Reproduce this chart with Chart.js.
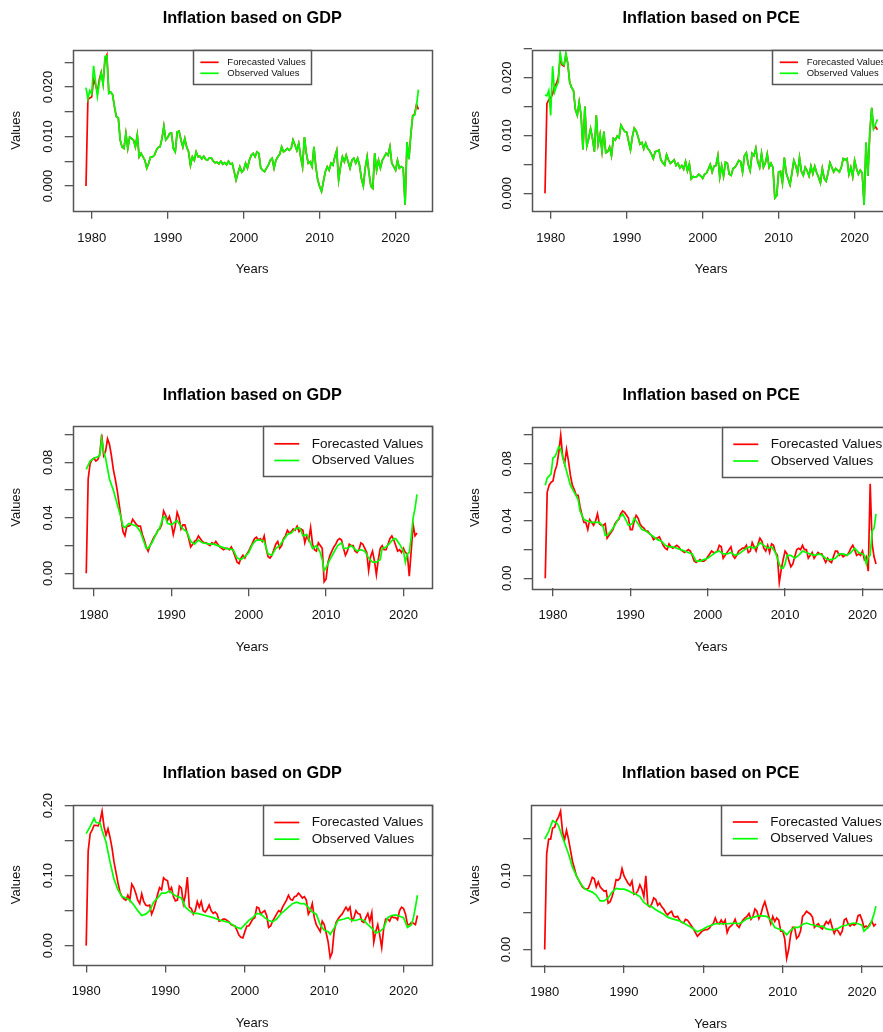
<!DOCTYPE html>
<html>
<head>
<meta charset="utf-8">
<script src="https://cdn.jsdelivr.net/npm/chart.js@4.4.0/dist/chart.umd.min.js"></script>
<style>
  html, body { margin: 0; padding: 0; background: #fff; }
  body { position: relative; width: 883px; height: 1032px; overflow: hidden; }
  canvas { position: absolute; }
</style>
</head>
<body>
<canvas id="gdp1" width="440" height="290" style="left:0;top:0"></canvas>
<canvas id="pce1" width="460" height="290" style="left:440px;top:0"></canvas>
<canvas id="gdp2" width="440" height="290" style="left:0;top:380px"></canvas>
<canvas id="pce2" width="460" height="290" style="left:440px;top:380px"></canvas>
<canvas id="gdp3" width="440" height="272" style="left:0;top:760px"></canvas>
<canvas id="pce3" width="460" height="272" style="left:440px;top:760px"></canvas>
<script>
// ---- labels / ticks ----
const titles = ["Inflation based on GDP", "Inflation based on PCE"];
const legendLabels = ["Forecasted Values", "Observed Values"];
const xTicks = [1980, 1990, 2000, 2010, 2020];

const ticksTop = [0, 0.005, 0.010, 0.015, 0.020, 0.025];
const labelsTop = [0, 0.010, 0.020];
const ticksMid = [0, 0.02, 0.04, 0.06, 0.08, 0.10];
const labelsMid = [0, 0.04, 0.08];
const ticksLowGdp = [0, 0.05, 0.10, 0.15, 0.20];
const labelsLowGdp = [0, 0.10, 0.20];
const ticksLowPce = [0, 0.05, 0.10, 0.15];
const labelsLowPce = [0, 0.10];

// ---- top row: quarterly, first value is 1979 Q2 ----
const topStart = 1979.25;

const gdp1Observed = [
  /* 1979 */ .0199, .0176, .0193,
  /* 1980 */ .0186, .0243, .0211, .0181,
  /* 1981 */ .0209, .0228, .0205, .0262,
  /* 1982 */ .0263, .0187, .0190, .0185,
  /* 1983 */ .0160, .0140, .0138, .0093,
  /* 1984 */ .0079, .0076, .0106, .0076,
  /* 1985 */ .0099, .0096, .0093, .0079,
  /* 1986 */ .0103, .0059, .0066, .0059,
  /* 1987 */ .0052, .0036, .0046, .0059,
  /* 1988 */ .0059, .0062, .0072, .0078,
  /* 1989 */ .0079, .0096, .0121, .0093,
  /* 1990 */ .0098, .0106, .0107, .0076,
  /* 1991 */ .0069, .0109, .0111, .0093,
  /* 1992 */ .0079, .0096, .0079, .0069,
  /* 1993 */ .0042, .0059, .0052, .0069,
  /* 1994 */ .0059, .0060, .0055, .0060,
  /* 1995 */ .0054, .0052, .0057, .0057,
  /* 1996 */ .0050, .0047, .0048, .0045,
  /* 1997 */ .0050, .0044, .0047, .0043,
  /* 1998 */ .0050, .0044, .0046, .0029,
  /* 1999 */ .0012, .0026, .0039, .0028,
  /* 2000 */ .0032, .0046, .0036, .0052,
  /* 2001 */ .0062, .0066, .0059, .0069,
  /* 2002 */ .0066, .0036, .0032, .0029,
  /* 2003 */ .0036, .0042, .0052, .0056,
  /* 2004 */ .0036, .0052, .0059, .0064,
  /* 2005 */ .0079, .0069, .0072, .0076,
  /* 2006 */ .0072, .0076, .0093, .0083,
  /* 2007 */ .0072, .0086, .0059, .0039,
  /* 2008 */ .0099, .0066, .0046, .0049,
  /* 2009 */ .0039, .0079, .0039, .0012,
  /* 2010 */ -.0001, -.0011, .0009, .0029,
  /* 2011 */ .0039, .0032, .0046, .0042,
  /* 2012 */ .0059, .0072, .0012, .0039,
  /* 2013 */ .0059, .0049, .0062, .0049,
  /* 2014 */ .0036, .0052, .0056, .0046,
  /* 2015 */ .0056, .0042, .0015, .0000,
  /* 2016 */ .0036, .0059, .0026, -.0001,
  /* 2017 */ -.0005, .0066, .0032, .0052,
  /* 2018 */ .0036, .0052, .0059, .0066,
  /* 2019 */ .0062, .0079, .0046, .0039,
  /* 2020 */ .0032, .0052, .0036, .0039,
  /* 2021 */ .0036, -.0038, .0089, .0054,
  /* 2022 */ .0103, .0142, .0143, .0162,
  /* 2023 */ .0195
];

const gdp1Forecast = [
  /* 1979 */ 0, .0175, .0178,
  /* 1980 */ .0180, .0215, .0205, .0190,
  /* 1981 */ .0215, .0230, .0207, .0255,
  /* 1982 */ .0265, .0190, .0190, .0185,
  /* 1983 */ .0160, .0140, .0138, .0093,
  /* 1984 */ .0079, .0076, .0106, .0076,
  /* 1985 */ .0099, .0096, .0093, .0079,
  /* 1986 */ .0103, .0059, .0066, .0059,
  /* 1987 */ .0052, .0036, .0046, .0059,
  /* 1988 */ .0059, .0062, .0072, .0078,
  /* 1989 */ .0079, .0096, .0121, .0093,
  /* 1990 */ .0098, .0106, .0107, .0076,
  /* 1991 */ .0069, .0109, .0111, .0093,
  /* 1992 */ .0079, .0096, .0079, .0069,
  /* 1993 */ .0042, .0059, .0052, .0069,
  /* 1994 */ .0059, .0060, .0055, .0060,
  /* 1995 */ .0054, .0052, .0057, .0057,
  /* 1996 */ .0050, .0047, .0048, .0045,
  /* 1997 */ .0050, .0044, .0047, .0043,
  /* 1998 */ .0050, .0044, .0046, .0029,
  /* 1999 */ .0012, .0026, .0039, .0028,
  /* 2000 */ .0032, .0046, .0036, .0052,
  /* 2001 */ .0062, .0066, .0059, .0069,
  /* 2002 */ .0066, .0036, .0032, .0029,
  /* 2003 */ .0036, .0042, .0052, .0056,
  /* 2004 */ .0036, .0052, .0059, .0064,
  /* 2005 */ .0079, .0069, .0072, .0076,
  /* 2006 */ .0072, .0076, .0093, .0083,
  /* 2007 */ .0072, .0086, .0059, .0039,
  /* 2008 */ .0099, .0066, .0046, .0049,
  /* 2009 */ .0039, .0079, .0039, .0012,
  /* 2010 */ -.0001, -.0011, .0009, .0029,
  /* 2011 */ .0039, .0032, .0046, .0042,
  /* 2012 */ .0059, .0072, .0012, .0039,
  /* 2013 */ .0059, .0049, .0062, .0049,
  /* 2014 */ .0036, .0052, .0056, .0046,
  /* 2015 */ .0056, .0042, .0015, .0000,
  /* 2016 */ .0036, .0059, .0026, -.0001,
  /* 2017 */ -.0005, .0066, .0032, .0052,
  /* 2018 */ .0036, .0052, .0059, .0066,
  /* 2019 */ .0062, .0079, .0046, .0039,
  /* 2020 */ .0032, .0052, .0036, .0039,
  /* 2021 */ .0036, -.0038, .0089, .0054,
  /* 2022 */ .0103, .0142, .0145, .0165,
  /* 2023 */ .0155
];

const pce1Observed = [
  /* 1979 */ .0170, .0169, .0178,
  /* 1980 */ .0135, .0220, .0175, .0185,
  /* 1981 */ .0192, .0243, .0225, .0222,
  /* 1982 */ .0242, .0225, .0192, .0183,
  /* 1983 */ .0178, .0145, .0135, .0158,
  /* 1984 */ .0135, .0076, .0150, .0082,
  /* 1985 */ .0095, .0112, .0095, .0072,
  /* 1986 */ .0135, .0085, .0102, .0073,
  /* 1987 */ .0107, .0070, .0072, .0080,
  /* 1988 */ .0065, .0095, .0092, .0099,
  /* 1989 */ .0096, .0118, .0112, .0107,
  /* 1990 */ .0106, .0090, .0075, .0098,
  /* 1991 */ .0113, .0108, .0098, .0085,
  /* 1992 */ .0088, .0077, .0087, .0078,
  /* 1993 */ .0074, .0068, .0060, .0072,
  /* 1994 */ .0073, .0075, .0058, .0053,
  /* 1995 */ .0049, .0067, .0058, .0052,
  /* 1996 */ .0055, .0058, .0048, .0052,
  /* 1997 */ .0044, .0048, .0042, .0055,
  /* 1998 */ .0039, .0051, .0025, .0029,
  /* 1999 */ .0028, .0029, .0033, .0030,
  /* 2000 */ .0026, .0033, .0035, .0042,
  /* 2001 */ .0050, .0037, .0047, .0048,
  /* 2002 */ .0065, .0028, .0048, .0030,
  /* 2003 */ .0054, .0052, .0033, .0031,
  /* 2004 */ .0043, .0045, .0050, .0057,
  /* 2005 */ .0055, .0037, .0065, .0070,
  /* 2006 */ .0050, .0039, .0069, .0065,
  /* 2007 */ .0078, .0055, .0045, .0069,
  /* 2008 */ .0045, .0052, .0068, .0045,
  /* 2009 */ .0052, .0045, -.0008, -.0004,
  /* 2010 */ .0037, .0038, .0018, .0062,
  /* 2011 */ .0035, .0025, .0015, .0035,
  /* 2012 */ .0057, .0048, .0035, .0062,
  /* 2013 */ .0038, .0031, .0045, .0039,
  /* 2014 */ .0030, .0047, .0034, .0047,
  /* 2015 */ .0036, .0028, .0018, .0043,
  /* 2016 */ .0026, .0021, .0035, .0053,
  /* 2017 */ .0045, .0037, .0043, .0040,
  /* 2018 */ .0037, .0045, .0060, .0058,
  /* 2019 */ .0060, .0033, .0045, .0029,
  /* 2020 */ .0057, .0043, .0033, .0040,
  /* 2021 */ .0035, -.0020, .0088, .0030,
  /* 2022 */ .0105, .0148, .0112, .0120,
  /* 2023 */ .0128
];

const pce1Forecast = [
  /* 1979 */ 0, .0155, .0162,
  /* 1980 */ .0165, .0172, .0185, .0190,
  /* 1981 */ .0200, .0235, .0222, .0220,
  /* 1982 */ .0240, .0225, .0192, .0183,
  /* 1983 */ .0178, .0145, .0135, .0158,
  /* 1984 */ .0135, .0076, .0150, .0082,
  /* 1985 */ .0095, .0112, .0095, .0072,
  /* 1986 */ .0135, .0085, .0102, .0073,
  /* 1987 */ .0107, .0070, .0072, .0080,
  /* 1988 */ .0065, .0095, .0092, .0099,
  /* 1989 */ .0096, .0118, .0112, .0107,
  /* 1990 */ .0106, .0090, .0075, .0098,
  /* 1991 */ .0113, .0108, .0098, .0085,
  /* 1992 */ .0088, .0077, .0087, .0078,
  /* 1993 */ .0074, .0068, .0060, .0072,
  /* 1994 */ .0073, .0075, .0058, .0053,
  /* 1995 */ .0049, .0067, .0058, .0052,
  /* 1996 */ .0055, .0058, .0048, .0052,
  /* 1997 */ .0044, .0048, .0042, .0055,
  /* 1998 */ .0039, .0051, .0025, .0029,
  /* 1999 */ .0028, .0029, .0033, .0030,
  /* 2000 */ .0026, .0033, .0035, .0042,
  /* 2001 */ .0050, .0037, .0047, .0048,
  /* 2002 */ .0065, .0028, .0048, .0030,
  /* 2003 */ .0054, .0052, .0033, .0031,
  /* 2004 */ .0043, .0045, .0050, .0057,
  /* 2005 */ .0055, .0037, .0065, .0070,
  /* 2006 */ .0050, .0039, .0069, .0065,
  /* 2007 */ .0078, .0055, .0045, .0069,
  /* 2008 */ .0045, .0052, .0068, .0045,
  /* 2009 */ .0052, .0045, -.0008, -.0004,
  /* 2010 */ .0037, .0038, .0018, .0062,
  /* 2011 */ .0035, .0025, .0015, .0035,
  /* 2012 */ .0057, .0048, .0035, .0062,
  /* 2013 */ .0038, .0031, .0045, .0039,
  /* 2014 */ .0030, .0047, .0034, .0047,
  /* 2015 */ .0036, .0028, .0018, .0043,
  /* 2016 */ .0026, .0021, .0035, .0053,
  /* 2017 */ .0045, .0037, .0043, .0040,
  /* 2018 */ .0037, .0045, .0060, .0058,
  /* 2019 */ .0060, .0033, .0045, .0029,
  /* 2020 */ .0057, .0043, .0033, .0040,
  /* 2021 */ .0035, -.0020, .0088, .0030,
  /* 2022 */ .0105, .0148, .0112, .0115,
  /* 2023 */ .0110
];

// ---- middle row: forecasts quarterly from 1979 Q1 ----
const midStart = 1979.0;

const gdp2Forecast = [
  /* 1979 */ 0, .068, .079, .082,
  /* 1980 */ .083, .081, .082, .086,
  /* 1981 */ .100, .085, .088, .097,
  /* 1982 */ .093, .085, .075, .068,
  /* 1983 */ .060, .050, .040, .030,
  /* 1984 */ .027, .034, .034, .035,
  /* 1985 */ .039, .037, .035, .034,
  /* 1986 */ .034, .028, .024, .019,
  /* 1987 */ .016, .020, .023, .026,
  /* 1988 */ .028, .031, .032, .035,
  /* 1989 */ .045, .042, .038, .041,
  /* 1990 */ .036, .028, .034, .044,
  /* 1991 */ .040, .032, .035, .035,
  /* 1992 */ .030, .025, .019, .021,
  /* 1993 */ .023, .024, .027, .025,
  /* 1994 */ .023, .022, .022, .021,
  /* 1995 */ .020, .022, .021, .023,
  /* 1996 */ .021, .019, .018, .017,
  /* 1997 */ .018, .018, .017, .019,
  /* 1998 */ .016, .012, .008, .007,
  /* 1999 */ .011, .013, .011, .014,
  /* 2000 */ .016, .019, .022, .025,
  /* 2001 */ .026, .024, .025, .023,
  /* 2002 */ .027, .018, .012, .011,
  /* 2003 */ .013, .017, .021, .023,
  /* 2004 */ .018, .020, .025, .027,
  /* 2005 */ .031, .029, .030, .032,
  /* 2006 */ .031, .034, .030, .032,
  /* 2007 */ .031, .022, .027, .024,
  /* 2008 */ .033, .021, .017, .016,
  /* 2009 */ .022, .020, .018, -.006,
  /* 2010 */ -.004, .008, .013, .016,
  /* 2011 */ .019, .021, .024, .025,
  /* 2012 */ .024, .018, .013, .016,
  /* 2013 */ .021, .020, .020, .016,
  /* 2014 */ .015, .017, .022, .021,
  /* 2015 */ .018, .015, .002, .012,
  /* 2016 */ .016, .009, -.001, .010,
  /* 2017 */ .018, .020, .017, .017,
  /* 2018 */ .021, .025, .027, .024,
  /* 2019 */ .020, .016, .017, .015,
  /* 2020 */ .018, .015, .014, -.002,
  /* 2021 */ .016, .035, .027, .029
];

const gdp2ObsYears = [
  1979, 1979.5, 1980, 1980.5, 1980.75, 1981, 1981.25, 1981.5, 1982, 1982.5,
  1983, 1983.5, 1983.75, 1984, 1984.5, 1985, 1985.5, 1986, 1986.5, 1986.75,
  1987, 1987.5, 1988, 1988.5, 1989, 1989.25, 1989.5, 1990, 1990.5, 1990.75,
  1991, 1991.5, 1992, 1992.5, 1993, 1993.5, 1994, 1995, 1995.5, 1996,
  1997, 1998, 1998.5, 1999, 1999.5, 2000, 2000.5, 2001, 2001.5, 2002,
  2002.5, 2003, 2003.5, 2004, 2004.5, 2005, 2005.5, 2006, 2006.5, 2006.75,
  2007, 2007.5, 2007.75, 2008.25, 2008.75, 2009.25, 2009.5, 2009.75, 2010, 2010.5,
  2011, 2011.5, 2012, 2012.25, 2012.75, 2013.25, 2014, 2014.5, 2015, 2015.5,
  2016, 2016.5, 2017, 2017.25, 2017.75, 2018.25, 2018.75, 2019, 2019.5, 2020,
  2020.25, 2020.5, 2020.75, 2021, 2021.25, 2021.5, 2021.75
];
const gdp2Observed = [
  .075, .081, .083, .084, .085, .097, .088, .083, .068, .060,
  .050, .040, .034, .033, .036, .035, .034, .030, .022, .018,
  .018, .022, .028, .033, .041, .040, .036, .035, .037, .038,
  .036, .032, .030, .023, .021, .024, .022, .021, .021, .020,
  .018, .017, .011, .010, .012, .015, .021, .024, .024, .023,
  .014, .013, .018, .020, .024, .028, .029, .032, .033, .031,
  .027, .028, .025, .018, .020, .015, .010, .002, .004, .010,
  .015, .020, .022, .018, .018, .020, .016, .017, .016, .011,
  .008, .008, .010, .018, .019, .022, .025, .025, .021, .016,
  .008, .014, .015, .026, .040, .047, .057
];

const pce2Forecast = [
  /* 1979 */ 0, .060, .065, .067,
  /* 1980 */ .068, .075, .079, .088,
  /* 1981 */ .100, .085, .080, .090,
  /* 1982 */ .082, .072, .065, .062,
  /* 1983 */ .058, .058, .050, .044,
  /* 1984 */ .039, .039, .034, .041,
  /* 1985 */ .039, .037, .040, .045,
  /* 1986 */ .038, .037, .037, .038,
  /* 1987 */ .028, .030, .032, .034,
  /* 1988 */ .038, .040, .041, .045,
  /* 1989 */ .047, .046, .044, .042,
  /* 1990 */ .034, .034, .040, .044,
  /* 1991 */ .042, .038, .036, .035,
  /* 1992 */ .033, .033, .031, .030,
  /* 1993 */ .027, .028, .028, .029,
  /* 1994 */ .026, .023, .021, .020,
  /* 1995 */ .024, .022, .021, .022,
  /* 1996 */ .023, .022, .020, .019,
  /* 1997 */ .018, .019, .020, .019,
  /* 1998 */ .016, .012, .011, .012,
  /* 1999 */ .013, .012, .012, .013,
  /* 2000 */ .015, .017, .019, .018,
  /* 2001 */ .018, .019, .023, .022,
  /* 2002 */ .014, .016, .018, .020,
  /* 2003 */ .022, .016, .014, .016,
  /* 2004 */ .019, .020, .021, .021,
  /* 2005 */ .023, .018, .019, .025,
  /* 2006 */ .022, .019, .024, .028,
  /* 2007 */ .026, .021, .019, .023,
  /* 2008 */ .018, .024, .023, .018,
  /* 2009 */ .016, -.003, .006, .013,
  /* 2010 */ .019, .017, .012, .008,
  /* 2011 */ .010, .015, .020, .021,
  /* 2012 */ .020, .023, .020, .020,
  /* 2013 */ .014, .016, .018, .014,
  /* 2014 */ .016, .018, .017, .017,
  /* 2015 */ .014, .011, .014, .012,
  /* 2016 */ .011, .015, .019, .019,
  /* 2017 */ .016, .017, .015, .016,
  /* 2018 */ .016, .018, .021, .023,
  /* 2019 */ .020, .016, .017, .016,
  /* 2020 */ .019, .013, .015, .005,
  /* 2021 */ .066, .024, .015, .010
];

const pce2ObsYears = [
  1979, 1979.25, 1979.75, 1980, 1980.25, 1980.5, 1980.75, 1981, 1981.5, 1982,
  1982.25, 1982.75, 1983.25, 1983.5, 1984, 1984.5, 1985, 1985.5, 1986, 1986.5,
  1986.75, 1987, 1987.5, 1988, 1988.5, 1989, 1989.5, 1989.75, 1990.25, 1990.5,
  1991, 1991.5, 1992, 1992.5, 1993, 1993.5, 1994, 1994.5, 1995, 1995.5,
  1996, 1996.5, 1997, 1997.5, 1998, 1998.5, 1999, 1999.5, 2000, 2000.5,
  2001, 2001.5, 2002, 2002.5, 2003, 2003.5, 2004, 2004.5, 2005, 2005.5,
  2006, 2006.5, 2006.75, 2007.25, 2007.75, 2008.25, 2008.75, 2009.25, 2009.5, 2009.75,
  2010, 2010.25, 2010.75, 2011.25, 2011.75, 2012.25, 2012.75, 2013.25, 2013.75, 2014.5,
  2015, 2015.5, 2016, 2016.5, 2017, 2017.5, 2018, 2018.5, 2019, 2019.5,
  2020, 2020.25, 2020.5, 2020.75, 2021, 2021.25, 2021.5, 2021.75
];
const pce2Observed = [
  .065, .070, .073, .084, .085, .088, .092, .090, .080, .070,
  .065, .060, .055, .047, .041, .040, .039, .039, .039, .036,
  .030, .030, .033, .037, .042, .045, .040, .037, .038, .042,
  .038, .034, .033, .031, .029, .027, .026, .023, .022, .022,
  .021, .020, .019, .018, .017, .012, .012, .013, .014, .016,
  .018, .019, .017, .017, .018, .016, .017, .019, .021, .022,
  .021, .023, .025, .023, .021, .022, .018, .010, .007, .007,
  .010, .016, .016, .014, .016, .019, .018, .017, .016, .017,
  .015, .013, .013, .014, .017, .017, .016, .018, .021, .018,
  .017, .016, .010, .015, .016, .033, .035, .045
];

// ---- bottom row: forecasts quarterly from 1980 Q1 ----
const lowStart = 1980.0;

const gdp3Forecast = [
  /* 1980 */ 0, .135, .160, .165,
  /* 1981 */ .172, .172, .171, .178,
  /* 1982 */ .192, .170, .158, .167,
  /* 1983 */ .155, .140, .120, .105,
  /* 1984 */ .090, .077, .070, .067,
  /* 1985 */ .065, .072, .065, .088,
  /* 1986 */ .083, .075, .065, .060,
  /* 1987 */ .074, .063, .058, .057,
  /* 1988 */ .058, .045, .052, .062,
  /* 1989 */ .073, .083, .080, .097,
  /* 1990 */ .094, .093, .078, .083,
  /* 1991 */ .070, .064, .065, .085,
  /* 1992 */ .082, .060, .072, .098,
  /* 1993 */ .055, .053, .045, .050,
  /* 1994 */ .063, .055, .063, .050,
  /* 1995 */ .048, .052, .058, .050,
  /* 1996 */ .046, .048, .045, .035,
  /* 1997 */ .036, .038, .038, .036,
  /* 1998 */ .034, .030, .029, .028,
  /* 1999 */ .022, .015, .012, .011,
  /* 2000 */ .020, .028, .028, .033,
  /* 2001 */ .038, .040, .055, .054,
  /* 2002 */ .045, .048, .050, .043,
  /* 2003 */ .026, .028, .035, .040,
  /* 2004 */ .045, .050, .048, .055,
  /* 2005 */ .060, .065, .072, .066,
  /* 2006 */ .065, .070, .071, .075,
  /* 2007 */ .072, .068, .070, .065,
  /* 2008 */ .045, .050, .060, .040,
  /* 2009 */ .030, .025, .020, .035,
  /* 2010 */ .030, .018, .005, -.017,
  /* 2011 */ -.010, .020, .033, .038,
  /* 2012 */ .042, .045, .050, .055,
  /* 2013 */ .050, .055, .036, .040,
  /* 2014 */ .050, .046, .045, .035,
  /* 2015 */ .033, .040, .046, .035,
  /* 2016 */ .047, .005, .020, .030,
  /* 2017 */ .015, -.003, .025, .038,
  /* 2018 */ .038, .035, .042, .040,
  /* 2019 */ .040, .037, .050, .055,
  /* 2020 */ .053, .045, .030, .030,
  /* 2021 */ .033, .032, .030, .043
];

const gdp3ObsYears = [
  1980, 1980.5, 1981, 1981.25, 1981.75, 1982, 1982.5, 1983, 1983.5, 1984,
  1984.5, 1985, 1985.5, 1986, 1986.5, 1987, 1987.5, 1988, 1988.5, 1989,
  1989.5, 1990, 1990.5, 1991, 1991.5, 1992, 1992.5, 1993, 1993.5, 1994,
  1995, 1996, 1997, 1998, 1999, 1999.5, 2000, 2000.5, 2001, 2001.5,
  2002, 2002.5, 2003, 2003.5, 2004, 2004.5, 2005, 2005.5, 2006, 2006.5,
  2007, 2007.5, 2008, 2008.5, 2009, 2009.5, 2010, 2010.5, 2010.75, 2011.25,
  2011.75, 2012.5, 2013, 2013.5, 2014, 2014.5, 2015, 2015.5, 2016, 2016.5,
  2017, 2017.5, 2018, 2018.5, 2019, 2019.5, 2020, 2020.5, 2021, 2021.25,
  2021.5, 2021.75
];
const gdp3Observed = [
  .160, .170, .182, .176, .175, .165, .148, .120, .095, .080,
  .070, .068, .065, .058, .050, .043, .045, .050, .062, .068,
  .075, .075, .078, .073, .070, .068, .055, .050, .046, .046,
  .043, .040, .036, .033, .026, .024, .030, .036, .040, .046,
  .045, .040, .036, .034, .038, .045, .050, .055, .060, .062,
  .060, .060, .055, .048, .045, .030, .022, .020, .016, .025,
  .036, .038, .040, .036, .036, .038, .036, .030, .025, .018,
  .020, .025, .040, .043, .044, .042, .040, .026, .030, .040,
  .055, .072
];

const pce3Forecast = [
  /* 1980 */ 0, .130, .150, .150,
  /* 1981 */ .165, .166, .175, .180,
  /* 1982 */ .188, .160, .149, .162,
  /* 1983 */ .150, .135, .120, .110,
  /* 1984 */ .100, .095, .090, .085,
  /* 1985 */ .083, .082, .083, .090,
  /* 1986 */ .098, .096, .085, .092,
  /* 1987 */ .085, .082, .079, .080,
  /* 1988 */ .063, .065, .072, .082,
  /* 1989 */ .095, .094, .097, .110,
  /* 1990 */ .100, .095, .090, .087,
  /* 1991 */ .093, .075, .076, .080,
  /* 1992 */ .088, .082, .072, .100,
  /* 1993 */ .060, .058, .062, .070,
  /* 1994 */ .068, .060, .063, .058,
  /* 1995 */ .055, .050, .047, .050,
  /* 1996 */ .052, .045, .044, .045,
  /* 1997 */ .040, .037, .036, .041,
  /* 1998 */ .040, .036, .032, .028,
  /* 1999 */ .023, .018, .021, .024,
  /* 2000 */ .026, .027, .027, .029,
  /* 2001 */ .033, .035, .043, .036,
  /* 2002 */ .035, .040, .035, .040,
  /* 2003 */ .023, .030, .032, .035,
  /* 2004 */ .041, .033, .030, .036,
  /* 2005 */ .040, .043, .045, .049,
  /* 2006 */ .041, .045, .055, .052,
  /* 2007 */ .042, .048, .058, .065,
  /* 2008 */ .055, .045, .035, .045,
  /* 2009 */ .038, .043, .040, .025,
  /* 2010 */ .025, .015, -.012, .000,
  /* 2011 */ .020, .030, .030, .015,
  /* 2012 */ .018, .025, .045, .048,
  /* 2013 */ .052, .050, .048, .044,
  /* 2014 */ .030, .033, .035, .030,
  /* 2015 */ .028, .033, .038, .035,
  /* 2016 */ .040, .030, .022, .028,
  /* 2017 */ .025, .020, .025, .040,
  /* 2018 */ .042, .035, .032, .035,
  /* 2019 */ .033, .035, .046, .047,
  /* 2020 */ .040, .030, .032, .030,
  /* 2021 */ .035, .038, .032, .035
];

const pce3ObsYears = [
  1980, 1980.5, 1981, 1981.5, 1981.75, 1982, 1982.5, 1983, 1983.5, 1984,
  1984.5, 1985, 1985.5, 1986, 1986.5, 1987, 1987.5, 1988, 1988.5, 1989,
  1989.5, 1990, 1990.5, 1991, 1991.5, 1992, 1992.5, 1993, 1993.5, 1994,
  1995, 1995.5, 1996, 1997, 1998, 1998.5, 1999.25, 2000, 2000.5, 2001,
  2001.5, 2002, 2003, 2004, 2004.5, 2005, 2005.5, 2006, 2007, 2008,
  2008.5, 2009, 2009.5, 2010, 2010.5, 2011, 2011.5, 2012, 2012.5, 2013,
  2013.5, 2014, 2014.5, 2015, 2015.5, 2016, 2016.5, 2017, 2017.5, 2018,
  2018.5, 2019, 2019.5, 2020, 2020.25, 2020.75, 2021, 2021.25, 2021.5, 2021.75
];
const pce3Observed = [
  .150, .160, .175, .172, .168, .160, .145, .130, .112, .100,
  .090, .083, .080, .078, .074, .066, .066, .070, .078, .083,
  .082, .082, .080, .077, .075, .072, .064, .060, .058, .054,
  .048, .044, .042, .039, .033, .030, .024, .028, .031, .033,
  .035, .035, .035, .036, .035, .038, .042, .043, .046, .045,
  .040, .030, .028, .026, .020, .026, .030, .030, .034, .036,
  .034, .033, .031, .032, .028, .027, .027, .029, .032, .033,
  .035, .036, .035, .033, .025, .030, .033, .040, .048, .059
];

// ---- helpers ----
function onQuarters(start, values) {
  return values.map((v, i) => ({ x: start + i / 4, y: v }));
}
function onYears(years, values) {
  return years.map((t, i) => ({ x: t, y: values[i] }));
}

const FONT = '"Liberation Sans", Arial, Helvetica, sans-serif';
const INK = '#111';
const AXIS = '#555';

const smallLegend = { w: 118.3, h: 34.3, rows: [12.3, 23.3], sx: 7.3, sl: 18.3, tx: 34.3, size: 9.5 };
const bigLegend = { w: 169, h: 50, rows: [17.5, 34.2], sx: 11.6, sl: 25, tx: 49, size: 13.5 };

const panels = [
  { id: 'gdp1', title: titles[0], digits: 3,
    forecast: onQuarters(topStart, gdp1Forecast), observed: onQuarters(topStart, gdp1Observed),
    xRange: [1977.5, 2024.75], yRange: [-0.005, 0.0275], yTicks: ticksTop, yLabels: labelsTop,
    area: { l: 72.7, t: 50, r: 431.7, b: 210.7 }, legend: smallLegend, legendAlign: 'center' },
  { id: 'pce1', title: titles[1], digits: 3,
    forecast: onQuarters(topStart, pce1Forecast), observed: onQuarters(topStart, pce1Observed),
    xRange: [1977.5, 2024.75], yRange: [-0.003, 0.0248], yTicks: ticksTop, yLabels: labelsTop,
    area: { l: 91.7, t: 50, r: 450.7, b: 210.7 }, legend: smallLegend, legendAlign: 'right' },
  { id: 'gdp2', title: titles[0], digits: 2,
    forecast: onQuarters(midStart, gdp2Forecast), observed: onYears(gdp2ObsYears, gdp2Observed),
    xRange: [1977.25, 2023.65], yRange: [-0.0108, 0.106], yTicks: ticksMid, yLabels: labelsMid,
    area: { l: 72.7, t: 46.3, r: 431.7, b: 208.3 }, legend: bigLegend, legendAlign: 'right' },
  { id: 'pce2', title: titles[1], digits: 2,
    forecast: onQuarters(midStart, pce2Forecast), observed: onYears(pce2ObsYears, pce2Observed),
    xRange: [1977.25, 2023.65], yRange: [-0.007, 0.1058], yTicks: ticksMid, yLabels: labelsMid,
    area: { l: 91.7, t: 46.8, r: 450.7, b: 208.3 }, legend: bigLegend, legendAlign: 'right' },
  { id: 'gdp3', title: titles[0], digits: 2,
    forecast: onQuarters(lowStart, gdp3Forecast), observed: onYears(gdp3ObsYears, gdp3Observed),
    xRange: [1978.3, 2023.55], yRange: [-0.027, 0.201], yTicks: ticksLowGdp, yLabels: labelsLowGdp,
    area: { l: 72.7, t: 45, r: 431.7, b: 204.5 }, legend: bigLegend, legendAlign: 'right' },
  { id: 'pce3', title: titles[1], digits: 2,
    forecast: onQuarters(lowStart, pce3Forecast), observed: onYears(pce3ObsYears, pce3Observed),
    xRange: [1978.3, 2023.55], yRange: [-0.021, 0.197], yTicks: ticksLowPce, yLabels: labelsLowPce,
    area: { l: 91.2, t: 44.5, r: 450.2, b: 205 }, legend: bigLegend, legendAlign: 'right' }
];

// box, rotated y labels, titles and the R-style legend
function decorations(p) {
  return {
    id: 'decor_' + p.id,
    afterDraw(chart) {
      const ctx = chart.ctx;
      const a = chart.chartArea;
      const ys = chart.scales.y;
      const midX = (a.left + a.right) / 2;
      ctx.save();

      ctx.strokeStyle = AXIS;
      ctx.lineWidth = 1.5;
      ctx.strokeRect(Math.round(a.left) + 0.5, Math.round(a.top) + 0.5,
                     Math.round(a.right - a.left), Math.round(a.bottom - a.top));

      ctx.fillStyle = INK;
      ctx.textAlign = 'center';
      ctx.textBaseline = 'middle';
      ctx.font = '13px ' + FONT;
      p.yLabels.forEach(v => {
        ctx.save();
        ctx.translate(a.left - 24.5, ys.getPixelForValue(v));
        ctx.rotate(-Math.PI / 2);
        ctx.fillText(v.toFixed(p.digits), 0, 0);
        ctx.restore();
      });

      ctx.fillText('Years', midX, a.bottom + 59);
      ctx.save();
      ctx.translate(a.left - 56, (a.top + a.bottom) / 2);
      ctx.rotate(-Math.PI / 2);
      ctx.fillText('Values', 0, 0);
      ctx.restore();

      ctx.font = 'bold 16.3px ' + FONT;
      ctx.fillStyle = '#000';
      ctx.fillText(p.title, midX, a.top - 31);

      // legend
      const L = p.legend;
      const lx = p.legendAlign === 'center' ? midX - L.w / 2 : a.right - L.w;
      const ly = a.top;
      ctx.fillStyle = '#fff';
      ctx.fillRect(lx, ly, L.w, L.h);
      ctx.strokeStyle = AXIS;
      ctx.lineWidth = 1.5;
      ctx.strokeRect(Math.round(lx) + 0.5, Math.round(ly) + 0.5, Math.round(L.w), Math.round(L.h));
      ctx.font = L.size + 'px ' + FONT;
      ctx.textAlign = 'left';
      chart.data.datasets.forEach((ds, i) => {
        const y = ly + L.rows[i];
        ctx.strokeStyle = ds.borderColor;
        ctx.lineWidth = 1.7;
        ctx.beginPath();
        ctx.moveTo(lx + L.sx, y);
        ctx.lineTo(lx + L.sx + L.sl, y);
        ctx.stroke();
        ctx.fillStyle = INK;
        ctx.fillText(ds.label, lx + L.tx, y);
      });
      ctx.restore();
    }
  };
}

function drawPanel(p) {
  const canvas = document.getElementById(p.id);
  const a = p.area;
  const grid = { drawOnChartArea: false, drawTicks: true, tickLength: 8, color: AXIS, lineWidth: 1.3 };

  new Chart(canvas, {
    type: 'line',
    data: {
      datasets: [
        { label: legendLabels[0], data: p.forecast, borderColor: '#ff0000', order: 2 },
        { label: legendLabels[1], data: p.observed, borderColor: '#00ff00', order: 1 }
      ]
    },
    options: {
      responsive: false,
      animation: false,
      devicePixelRatio: 1,
      layout: { padding: { top: a.t, right: canvas.width - a.r, left: 0, bottom: 0 } },
      elements: {
        point: { radius: 0 },
        line: { borderWidth: 1.7, tension: 0, fill: false }
      },
      plugins: { legend: { display: false }, tooltip: { enabled: false } },
      scales: {
        x: {
          type: 'linear',
          min: p.xRange[0],
          max: p.xRange[1],
          afterBuildTicks: s => { s.ticks = xTicks.map(v => ({ value: v })); },
          afterFit: s => { s.height = canvas.height - a.b; },
          grid: grid,
          border: { display: false },
          ticks: {
            color: INK,
            font: { family: FONT, size: 13 },
            padding: 11.5,
            maxRotation: 0,
            autoSkip: false,
            callback: v => String(v)
          }
        },
        y: {
          type: 'linear',
          min: p.yRange[0],
          max: p.yRange[1],
          afterBuildTicks: s => { s.ticks = p.yTicks.map(v => ({ value: v })); },
          afterFit: s => { s.width = a.l; },
          grid: grid,
          border: { display: false },
          ticks: { display: false }
        }
      }
    },
    plugins: [decorations(p)]
  });
}

panels.forEach(drawPanel);
</script>
</body>
</html>
